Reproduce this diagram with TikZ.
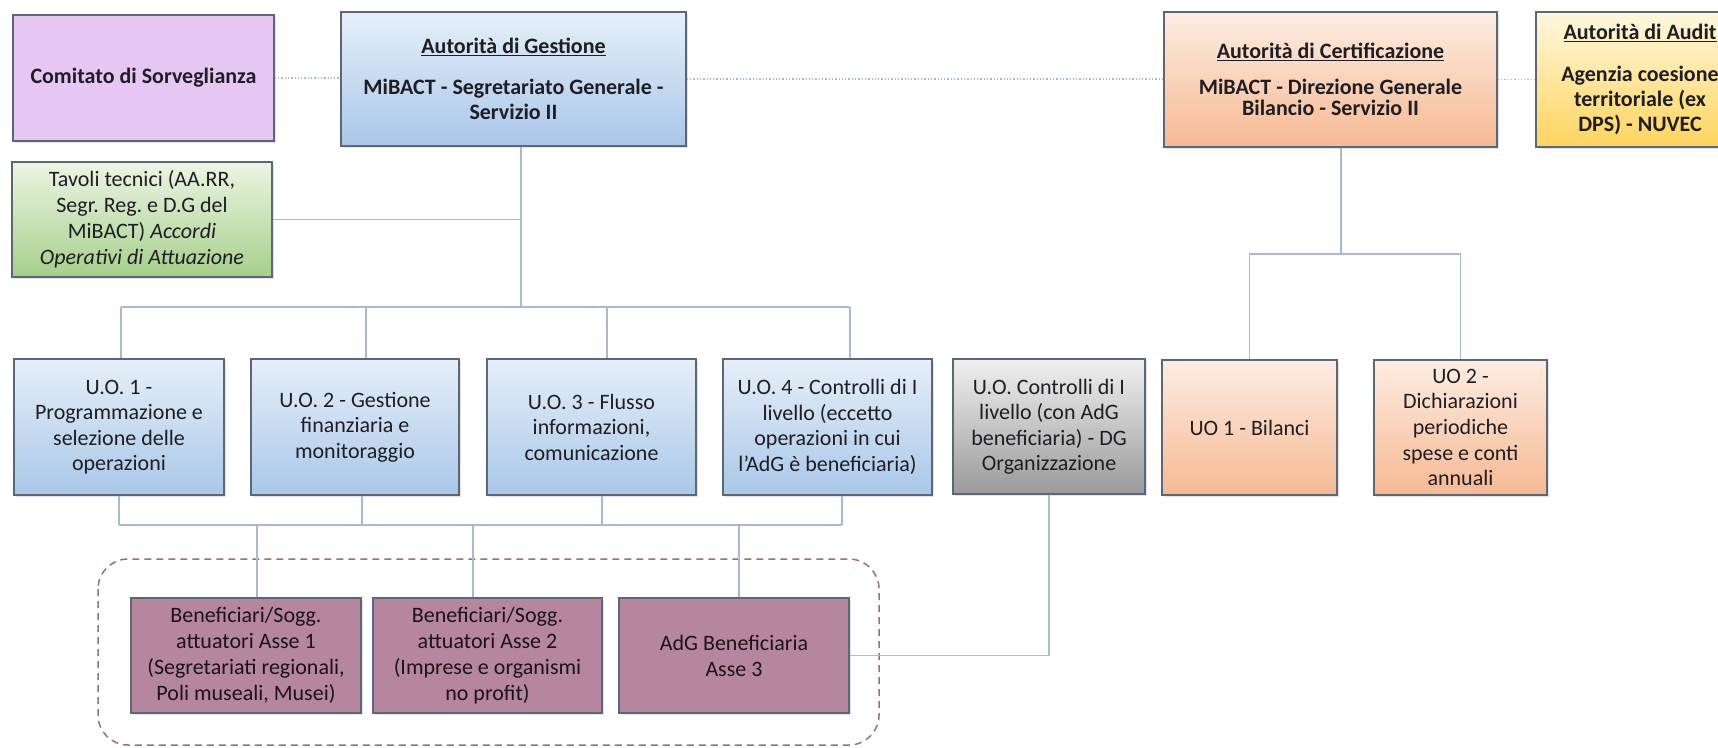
\documentclass[tikz,border=0pt]{standalone}
\usepackage{fontspec}
\setmainfont{Carlito}
\frenchspacing
\usetikzlibrary{calc,shadows}
\definecolor{bord}{HTML}{5B6678}
\definecolor{conn}{HTML}{A8BAD3}
\definecolor{txt}{HTML}{1E1E24}
\definecolor{blueT}{HTML}{E6EFF9}
\definecolor{blueB}{HTML}{A9C7E8}
\definecolor{peachT}{HTML}{FDEDE2}
\definecolor{peachB}{HTML}{F6B993}
\definecolor{yelT}{HTML}{FFF7DE}
\definecolor{yelB}{HTML}{FFD45E}
\definecolor{grnT}{HTML}{ECF5E4}
\definecolor{grnB}{HTML}{A6CF8A}
\definecolor{grayT}{HTML}{F0F0F0}
\definecolor{grayB}{HTML}{9A9A9A}
\definecolor{lilac}{HTML}{E6C7F3}
\definecolor{mauve}{HTML}{B5869D}
\definecolor{dashc}{HTML}{9E6E78}
\begin{document}
\begin{tikzpicture}[x=1pt,y=-1pt,
  box/.style={draw=bord, line width=1.4pt, rectangle, inner sep=0pt, align=center,
    font=\fontsize{22}{25.5}\selectfont, text=txt,
    drop shadow={opacity=0.22, shadow xshift=1.5pt, shadow yshift=-2pt}},
  bluebox/.style={box, top color=blueT, bottom color=blueB},
  peachbox/.style={box, top color=peachT, bottom color=peachB},
  yelbox/.style={box, top color=yelT, bottom color=yelB},
  grnbox/.style={box, top color=grnT, bottom color=grnB},
  graybox/.style={box, top color=grayT, bottom color=grayB},
  lilbox/.style={box, fill=lilac},
  maubox/.style={box, fill=mauve, text=black!85!mauve},
  link/.style={draw=conn, line width=1.3pt},
  dotlink/.style={draw=conn, line width=1.3pt, dotted},
  grp/.style={draw=dashc, line width=1.5pt, dash pattern=on 7pt off 5pt, rounded corners=30pt}
]
\useasboundingbox (0,0) rectangle (1718,747);
\clip (0,0) rectangle (1718,747);
\fill[white] (0,0) rectangle (1718,747);

% top row
\node[lilbox, minimum width=261pt, minimum height=126pt, font=\fontsize{22}{25.5}\selectfont\bfseries] (com) at (143.5,78) {Comitato di Sorveglianza};
\node[bluebox, minimum width=345pt, minimum height=134pt, font=\fontsize{22}{25.5}\selectfont\bfseries] (adg) at (513.5,79)
  {\underline{Autorità di Gestione}\\[15.5pt] MiBACT - Segretariato Generale -\\ Servizio II};
\node[peachbox, minimum width=333pt, minimum height=135pt, font=\fontsize{22}{25.5}\selectfont\bfseries] (adc) at (1330.5,79.5)
  {\underline{Autorità di Certificazione}\\[10pt] MiBACT - Direzione Generale\\[-4pt] Bilancio - Servizio II};
\node[yelbox, minimum width=208pt, minimum height=135pt, font=\fontsize{22}{25}\selectfont\bfseries] (aud) at (1640,79.5)
  {\underline{Autorità di Audit}\\[17pt] Agenzia coesione\\ territoriale (ex\\ DPS) - NUVEC};
\node[grnbox, minimum width=260pt, minimum height=115pt, font=\fontsize{22}{26}\selectfont] (tav) at (142,219.5)
  {Tavoli tecnici (AA.RR,\\ Segr. Reg. e D.G del\\ MiBACT) \textit{Accordi}\\ \textit{Operativi di Attuazione}};

% U.O. row
\node[bluebox, minimum width=210pt, minimum height=136pt] (uo1) at (119,427)
  {U.O. 1 -\\ Programmazione e\\ selezione delle\\ operazioni};
\node[bluebox, minimum width=208pt, minimum height=136pt] (uo2) at (355,427)
  {U.O. 2 - Gestione\\ finanziaria e\\ monitoraggio};
\node[bluebox, minimum width=209pt, minimum height=136pt] (uo3) at (591.5,427)
  {U.O. 3 - Flusso\\ informazioni,\\ comunicazione};
\node[bluebox, minimum width=209pt, minimum height=136pt] (uo4) at (827.5,427)
  {U.O. 4 - Controlli di I\\ livello (eccetto\\ operazioni in cui\\ l’AdG è beneficiaria)};
\node[graybox, minimum width=192pt, minimum height=135pt] (gry) at (1049,426.5)
  {U.O. Controlli di I\\ livello (con AdG\\ beneficiaria) - DG\\ Organizzazione};
\node[peachbox, minimum width=175pt, minimum height=135pt] (bil) at (1249.5,427.5)
  {UO 1 - Bilanci};
\node[peachbox, minimum width=173pt, minimum height=135pt, font=\fontsize{22}{25.7}\selectfont] (dic) at (1460.5,427.5)
  {UO 2 -\\ Dichiarazioni\\ periodiche\\ spese e conti\\ annuali};

% beneficiari
\node[maubox, minimum width=230pt, minimum height=115pt, font=\fontsize{22}{26}\selectfont] (b1) at (246,655.5)
  {Beneficiari/Sogg.\\ attuatori Asse 1\\ (Segretariati regionali,\\ Poli museali, Musei)};
\node[maubox, minimum width=229pt, minimum height=115pt, font=\fontsize{22}{26}\selectfont] (b2) at (487.5,655.5)
  {Beneficiari/Sogg.\\ attuatori Asse 2\\ (Imprese e organismi\\ no profit)};
\node[maubox, minimum width=230pt, minimum height=115pt, font=\fontsize{22}{26}\selectfont] (b3) at (734,655.5)
  {AdG Beneficiaria\\ Asse 3};

% group frame
\draw[grp] (98,559) rectangle (879,745);

% dotted links on top row
\draw[dotlink] (com.east) -- (com.east -| adg.west);
\draw[dotlink] (adg.east) -- (adg.east -| adc.west);
\draw[dotlink] (adc.east) -- (adc.east -| aud.west);

% AdG tree
\coordinate (hubT) at (521,307);
\draw[link] (adg.south -| hubT) -- (hubT);
\draw[link] (tav.east) -- (tav.east -| hubT);
\coordinate (d1) at (121,307);
\coordinate (d2) at (366,307);
\coordinate (d3) at (607,307);
\coordinate (d4) at (850,307);
\draw[link] (d1) -- (d4);
\draw[link] (d1) -- (d1 |- uo1.north);
\draw[link] (d2) -- (d2 |- uo2.north);
\draw[link] (d3) -- (d3 |- uo3.north);
\draw[link] (d4) -- (d4 |- uo4.north);

% U.O. to beneficiari
\coordinate (e1) at (119,525);
\coordinate (e2) at (362,525);
\coordinate (e3) at (602,525);
\coordinate (e4) at (842,525);
\draw[link] (uo1.south -| e1) -- (e1);
\draw[link] (uo2.south -| e2) -- (e2);
\draw[link] (uo3.south -| e3) -- (e3);
\draw[link] (uo4.south -| e4) -- (e4);
\draw[link] (e1) -- (e4);
\coordinate (f1) at (257,525);
\coordinate (f2) at (473,525);
\coordinate (f3) at (739,525);
\draw[link] (f1) -- (f1 |- b1.north);
\draw[link] (f2) -- (f2 |- b2.north);
\draw[link] (f3) -- (f3 |- b3.north);

% gray U.O. to AdG beneficiaria
\draw[link] (gry.south) |- (b3.east);

% AdC tree
\coordinate (hubC) at (1341,254);
\draw[link] (adc.south -| hubC) -- (hubC);
\draw[link] (bil.north) |- (hubC) -| (dic.north);
\end{tikzpicture}
\end{document}
